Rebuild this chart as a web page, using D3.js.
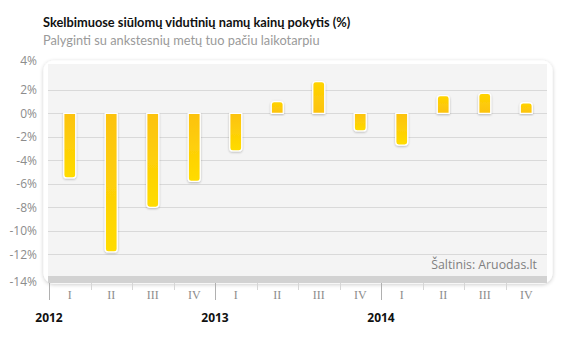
<!DOCTYPE html>
<html>
<head>
<meta charset="utf-8">
<script src="https://cdn.jsdelivr.net/npm/d3@7/dist/d3.min.js"></script>
<style>
  html, body { margin: 0; padding: 0; background: #fff; }
  svg { display: block; }
</style>
</head>
<body>
<svg id="chart" width="569" height="348"></svg>
<script>
// Quarterly change in average asking house prices, % vs same period a year earlier
const quarters = ["I", "II", "III", "IV", "I", "II", "III", "IV", "I", "II", "III", "IV"];
const years = ["2012", "2013", "2014"];
const changes = [-5.5, -11.8, -8.0, -5.8, -3.2, 1.0, 2.7, -1.5, -2.7, 1.5, 1.7, 0.9];
const yTicks = [4, 2, 0, -2, -4, -6, -8, -10, -12, -14];

const title = "Skelbimuose siūlomų vidutinių namų kainų pokytis (%)";
const subtitle = "Palyginti su ankstesnių metų tuo pačiu laikotarpiu";
const source = "Šaltinis: Aruodas.lt";

const svg = d3.select("#chart");
const font = "'Open Sans', 'Noto Sans', sans-serif";
const headFont = "Lato, 'Open Sans', sans-serif";

const plot = { left: 49, right: 547, top: 64, bottom: 283 };

const x = d3.scaleBand()
  .domain(d3.range(changes.length))
  .range([plot.left, plot.right])
  .paddingInner(0).paddingOuter(0);

const y = d3.scaleLinear()
  .domain([-14, 4])
  .range([277.8, 66.3]);

const defs = svg.append("defs");

const shadow = defs.append("filter").attr("id", "panelShadow")
  .attr("x", "-5%").attr("y", "-5%").attr("width", "110%").attr("height", "115%");
shadow.append("feGaussianBlur").attr("in", "SourceAlpha").attr("stdDeviation", 2.2);
shadow.append("feOffset").attr("dx", 0).attr("dy", 1).attr("result", "b");
shadow.append("feComponentTransfer").append("feFuncA").attr("type", "linear").attr("slope", 0.22);
const sm = shadow.append("feMerge");
sm.append("feMergeNode");
sm.append("feMergeNode").attr("in", "SourceGraphic");

const barShadow = defs.append("filter").attr("id", "barShadow")
  .attr("x", "-40%").attr("y", "-20%").attr("width", "180%").attr("height", "140%");
barShadow.append("feGaussianBlur").attr("in", "SourceAlpha").attr("stdDeviation", 0.8);
barShadow.append("feOffset").attr("dx", 0).attr("dy", 0.5);
barShadow.append("feComponentTransfer").append("feFuncA").attr("type", "linear").attr("slope", 0.25);
const bm = barShadow.append("feMerge");
bm.append("feMergeNode");
bm.append("feMergeNode").attr("in", "SourceGraphic");

// gradient runs from the zero line (deeper amber) to the bar tip (bright yellow)
const gNeg = defs.append("linearGradient").attr("id", "gNeg")
  .attr("x1", 0).attr("y1", 0).attr("x2", 0).attr("y2", 1);
gNeg.append("stop").attr("offset", "0%").attr("stop-color", "#fcc20f");
gNeg.append("stop").attr("offset", "100%").attr("stop-color", "#ffdc00");
const gPos = defs.append("linearGradient").attr("id", "gPos")
  .attr("x1", 0).attr("y1", 1).attr("x2", 0).attr("y2", 0);
gPos.append("stop").attr("offset", "0%").attr("stop-color", "#fcc20f");
gPos.append("stop").attr("offset", "100%").attr("stop-color", "#ffd400");

// titles
svg.append("text")
  .attr("x", 43).attr("y", 27)
  .attr("font-family", headFont).attr("font-weight", 700).attr("font-size", 12.8)
  .attr("fill", "#111")
  .text(title);
svg.append("text")
  .attr("x", 43).attr("y", 45)
  .attr("font-family", headFont).attr("font-size", 12.8)
  .attr("fill", "#9a9a9a")
  .text(subtitle);

// panel
svg.append("rect")
  .attr("x", 43.5).attr("y", 60.5)
  .attr("width", 509).attr("height", 223)
  .attr("rx", 10).attr("ry", 10)
  .attr("fill", "#fff")
  .attr("filter", "url(#panelShadow)");
svg.append("rect")
  .attr("x", plot.left - 1).attr("y", plot.top)
  .attr("width", plot.right - plot.left + 1).attr("height", plot.bottom - plot.top)
  .attr("fill", "#f4f4f4");

// grid lines
svg.append("g")
  .selectAll("line")
  .data(yTicks.filter(t => t < 4 && t > -14))
  .join("line")
  .attr("x1", plot.left - 1).attr("x2", plot.right)
  .attr("y1", d => Math.round(y(d)) + 0.5).attr("y2", d => Math.round(y(d)) + 0.5)
  .attr("stroke", "#d9d9d9").attr("stroke-width", 1.2);

// base band
svg.append("rect")
  .attr("x", plot.left - 1).attr("y", 276)
  .attr("width", plot.right - plot.left + 1).attr("height", 7)
  .attr("fill", "#d2d2d2");

// source note
svg.append("text")
  .attr("x", 537).attr("y", 269)
  .attr("text-anchor", "end")
  .attr("font-family", font).attr("font-size", 12.3)
  .attr("fill", "#808080")
  .text(source);

// y axis labels
const yAxis = d3.axisLeft(y)
  .tickValues(yTicks)
  .tickSize(0)
  .tickPadding(0)
  .tickFormat(d => d + "%");
const yg = svg.append("g")
  .attr("transform", "translate(37,0)")
  .call(yAxis);
yg.select(".domain").remove();
yg.selectAll("text")
  .attr("font-family", font).attr("font-size", 12)
  .attr("fill", "#8c8c8c")
  .attr("dy", d => d === 4 ? "-0.15em" : d === -14 ? "0.62em" : "0.32em");

// bars, rounded at the tip only
const bw = 12, r = 3;
function barPath(i, v) {
  const cx = x(i) + x.bandwidth() / 2;
  const x0 = cx - bw / 2, x1 = cx + bw / 2;
  const y0 = y(0), y1 = y(v);
  if (v < 0) {
    return `M${x0},${y0}V${y1 - r}Q${x0},${y1} ${x0 + r},${y1}H${x1 - r}Q${x1},${y1} ${x1},${y1 - r}V${y0}Z`;
  }
  return `M${x0},${y0}V${y1 + r}Q${x0},${y1} ${x0 + r},${y1}H${x1 - r}Q${x1},${y1} ${x1},${y1 + r}V${y0}Z`;
}
svg.append("g")
  .selectAll("path")
  .data(changes)
  .join("path")
  .attr("d", (v, i) => barPath(i, v))
  .attr("fill", v => v < 0 ? "url(#gNeg)" : "url(#gPos)")
  .attr("stroke", "#fff").attr("stroke-width", 1.3)
  .attr("filter", "url(#barShadow)");

// category axis
const xg = svg.append("g");
xg.selectAll("line.tick")
  .data(d3.range(changes.length))
  .join("line")
  .attr("x1", i => Math.round(x(i)) + 0.5).attr("x2", i => Math.round(x(i)) + 0.5)
  .attr("y1", 283)
  .attr("y2", i => i % 4 === 0 ? 300 : 290)
  .attr("stroke", i => i % 4 === 0 ? "#b0b0b0" : "#d6d6d6")
  .attr("stroke-width", 1);
xg.selectAll("text.q")
  .data(quarters)
  .join("text")
  .attr("x", (q, i) => x(i) + x.bandwidth() / 2)
  .attr("y", 299)
  .attr("text-anchor", "middle")
  .attr("font-family", "'Liberation Serif', 'DejaVu Serif', serif")
  .attr("font-size", 12)
  .attr("fill", "#8c8c8c")
  .text(q => q);
xg.selectAll("text.year")
  .data(years)
  .join("text")
  .attr("x", (yr, k) => x(k * 4))
  .attr("y", 322)
  .attr("text-anchor", "middle")
  .attr("font-family", font).attr("font-weight", 700).attr("font-size", 12)
  .attr("fill", "#111")
  .text(yr => yr);
</script>
</body>
</html>
